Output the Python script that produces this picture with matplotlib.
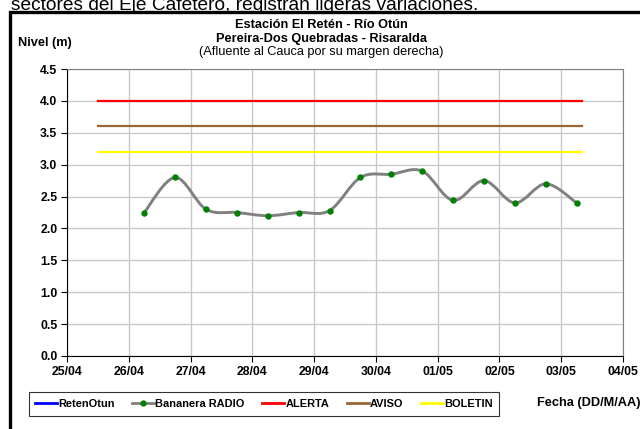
import matplotlib
matplotlib.use("Agg")
import matplotlib.pyplot as plt
import matplotlib.dates as mdates
from matplotlib.path import Path
from matplotlib.patches import PathPatch, Rectangle
from matplotlib.lines import Line2D
import numpy as np
import pandas as pd

plt.rcParams['font.family'] = ['Liberation Sans', 'DejaVu Sans']

# Nivel Bananera RADIO (m), lecturas cada 12 h
fechas = pd.to_datetime([
    '2011-04-26 06:00', '2011-04-26 18:00', '2011-04-27 06:00', '2011-04-27 18:00',
    '2011-04-28 06:00', '2011-04-28 18:00', '2011-04-29 06:00', '2011-04-29 18:00',
    '2011-04-30 06:00', '2011-04-30 18:00', '2011-05-01 06:00', '2011-05-01 18:00',
    '2011-05-02 06:00', '2011-05-02 18:00', '2011-05-03 06:00',
])
nivel = [2.25, 2.80, 2.30, 2.25, 2.20, 2.25, 2.28, 2.80,
         2.85, 2.90, 2.44, 2.75, 2.40, 2.70, 2.40]

# Umbrales
umbral_fechas = pd.to_datetime(['2011-04-25 12:00', '2011-05-03 08:00'])
alerta = [4.0, 4.0]
aviso = [3.6, 3.6]
boletin = [3.2, 3.2]

dias = pd.date_range('2011-04-25', '2011-05-04', freq='D')


def smooth_path(x, y):
    """Curva suavizada tipo Excel (Bezier cubica, Catmull-Rom)."""
    p = np.column_stack([x, y])
    verts = [p[0]]
    codes = [Path.MOVETO]
    n = len(p)
    for i in range(n - 1):
        p0 = p[i - 1] if i > 0 else p[i]
        p3 = p[i + 2] if i + 2 < n else p[i + 1]
        c1 = p[i] + (p[i + 1] - p0) / 6.0
        c2 = p[i + 1] - (p3 - p[i]) / 6.0
        verts += [c1, c2, p[i + 1]]
        codes += [Path.CURVE4] * 3
    return Path(verts, codes)


fig = plt.figure(figsize=(6.4, 4.29), dpi=100)
ax = fig.add_axes([67 / 640, 1 - 356 / 429, 556 / 640, 287 / 429])

ax.plot(umbral_fechas, alerta, color='#ff0000', lw=1.6, zorder=3)
ax.plot(umbral_fechas, aviso, color='#996633', lw=1.6, zorder=3)
ax.plot(umbral_fechas, boletin, color='#ffff00', lw=1.6, zorder=3)

xn = mdates.date2num(fechas)
ax.add_patch(PathPatch(smooth_path(xn, nivel), facecolor='none',
                       edgecolor='#808080', lw=2.1, zorder=4))
ax.plot(fechas, nivel, ls='', marker='o', ms=3.6, color='#008000', zorder=5)

ax.set_xlim(dias[0], dias[-1])
ax.set_ylim(0, 4.5)
ax.set_xticks(dias)
ax.xaxis.set_major_formatter(mdates.DateFormatter('%d/%m'))
ax.set_yticks(np.arange(0, 4.51, 0.5))
ax.yaxis.set_major_formatter(matplotlib.ticker.FormatStrFormatter('%.1f'))
ax.grid(True, color='#c8c8c8', lw=1.0)
ax.set_axisbelow(True)
for s in ['top', 'right']:
    ax.spines[s].set_color('#808080')
for s in ['left', 'bottom']:
    ax.spines[s].set_color('black')
ax.tick_params(direction='out', length=4, width=0.8, labelsize=8.8, pad=3)
for lab in ax.get_xticklabels() + ax.get_yticklabels():
    lab.set_fontweight('bold')

# Textos
fig.text(11 / 640, 1 - 10 / 429, 'sectores del Eje Cafetero, registran ligeras variaciones.',
         fontsize=13.8, va='baseline', ha='left')
fig.text(321 / 640, 1 - 25 / 429, 'Estación El Retén - Río Otún', fontsize=9.2,
         fontweight='bold', ha='center', va='center')
fig.text(321 / 640, 1 - 39 / 429, 'Pereira-Dos Quebradas - Risaralda', fontsize=9.2,
         fontweight='bold', ha='center', va='center')
fig.text(321 / 640, 1 - 52 / 429, '(Afluente al Cauca por su margen derecha)', fontsize=9.2,
         ha='center', va='center')
fig.text(18 / 640, 1 - 43 / 429, 'Nivel (m)', fontsize=9.2, fontweight='bold',
         ha='left', va='center')
fig.text(537 / 640, 1 - 403 / 429, 'Fecha (DD/M/AA)', fontsize=9.2, fontweight='bold',
         ha='left', va='center')

# Leyenda
handles = [
    Line2D([], [], color='#0000ff', lw=2),
    Line2D([], [], color='#808080', lw=2, marker='o', ms=3.5,
           markerfacecolor='#008000', markeredgecolor='#008000'),
    Line2D([], [], color='#ff0000', lw=2),
    Line2D([], [], color='#996633', lw=2),
    Line2D([], [], color='#ffff00', lw=2),
]
labels = ['RetenOtun', 'Bananera RADIO', 'ALERTA', 'AVISO', 'BOLETIN']
leg = fig.legend(handles, labels, loc='center', ncol=5,
                 bbox_to_anchor=(264 / 640, 1 - 404 / 429),
                 fontsize=7.9, frameon=True, fancybox=False, handlelength=2.0,
                 handletextpad=0.1, columnspacing=1.6, borderpad=0.6)
leg.get_frame().set_edgecolor('black')
leg.get_frame().set_linewidth(0.8)
for t in leg.get_texts():
    t.set_fontweight('bold')

# Marco del grafico
fig.patches.append(Rectangle((10 / 640, -0.05), 1.0, 1 - 12 / 429 + 0.05,
                             transform=fig.transFigure, fill=False,
                             edgecolor='black', lw=2.4))

fig.savefig('out.png', dpi=100)
